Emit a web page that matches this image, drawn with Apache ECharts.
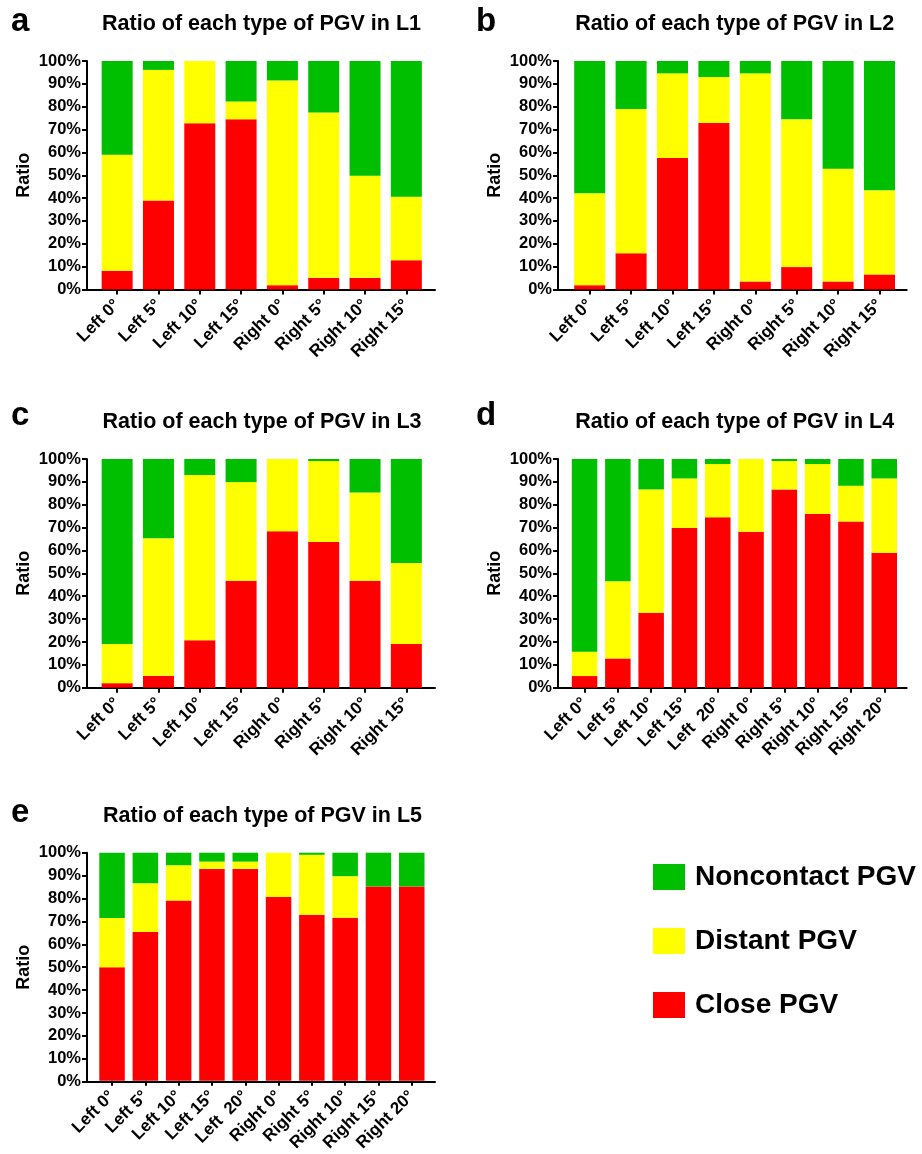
<!DOCTYPE html>
<html>
<head>
<meta charset="utf-8">
<script src="https://cdn.jsdelivr.net/npm/echarts@6/dist/echarts.min.js"></script>
<style>
html,body{margin:0;padding:0;background:#fff;}
#chart{width:922px;height:1154px;}
</style>
</head>
<body>
<div id="chart"></div>
<script>
const categories8 = ['Left 0°','Left 5°','Left 10°','Left 15°','Right 0°','Right 5°','Right 10°','Right 15°'];
const categories10 = ['Left 0°','Left 5°','Left 10°','Left 15°','Left  20°','Right 0°','Right 5°','Right 10°','Right 15°','Right 20°'];
const yTickLabels = ['0%','10%','20%','30%','40%','50%','60%','70%','80%','90%','100%'];
const seriesNames = ['Close PGV','Distant PGV','Noncontact PGV'];
const panelTitles = ['Ratio of each type of PGV in L1','Ratio of each type of PGV in L2','Ratio of each type of PGV in L3','Ratio of each type of PGV in L4','Ratio of each type of PGV in L5'];
const panelLetters = ['a','b','c','d','e'];

const L1_close      = [8.2, 39.0, 72.8, 74.5, 1.9, 5.1, 5.1, 12.8];
const L1_distant    = [50.8, 57.1, 27.2, 7.8, 89.6, 72.4, 44.7, 27.8];
const L1_noncontact = [41.0, 3.9, 0, 17.7, 8.5, 22.5, 50.2, 59.4];

const L2_close      = [1.9, 15.9, 57.6, 72.9, 3.5, 9.8, 3.5, 6.6];
const L2_distant    = [40.2, 63.1, 37.0, 20.1, 91.1, 64.7, 49.3, 36.8];
const L2_noncontact = [57.9, 21.0, 5.4, 7.0, 5.4, 25.5, 47.2, 56.6];

const L3_close      = [2.0, 5.2, 20.7, 46.8, 68.4, 63.7, 46.8, 19.1];
const L3_distant    = [17.1, 60.1, 72.3, 43.1, 31.6, 35.4, 38.5, 35.4];
const L3_noncontact = [80.9, 34.7, 7.0, 10.1, 0, 0.9, 14.7, 45.5];

const L4_close      = [5.1, 12.8, 32.8, 69.8, 74.5, 68.2, 86.7, 75.9, 72.7, 59.0];
const L4_distant    = [10.6, 33.8, 53.9, 21.7, 23.3, 31.8, 12.4, 21.9, 15.6, 32.5];
const L4_noncontact = [84.3, 53.4, 13.3, 8.5, 2.2, 0, 0.9, 2.2, 11.7, 8.5];

const L5_close      = [49.8, 65.2, 79.0, 92.9, 92.9, 80.6, 72.8, 71.5, 85.2, 85.2];
const L5_distant    = [21.5, 21.4, 15.5, 3.2, 3.2, 19.4, 26.3, 18.2, 0, 0];
const L5_noncontact = [28.7, 13.4, 5.5, 3.9, 3.9, 0, 0.9, 10.3, 14.8, 14.8];

const panelData = [
  {cats: categories8,  vals: [L1_close, L1_distant, L1_noncontact]},
  {cats: categories8,  vals: [L2_close, L2_distant, L2_noncontact]},
  {cats: categories8,  vals: [L3_close, L3_distant, L3_noncontact]},
  {cats: categories10, vals: [L4_close, L4_distant, L4_noncontact]},
  {cats: categories10, vals: [L5_close, L5_distant, L5_noncontact]}
];

// layout (pixels)
const W = 922, H = 1154;
const layout = [
  {wl: 87,  wr: 435,   nl: 96.5,  nr: 427,   top: 61,    bot: 289.5, barW: 31,   tx: 261.5, ty: 24,  lx: 11,  ly: 22},
  {wl: 558, wr: 906.7, nl: 569,   nr: 900.2, top: 61,    bot: 289.5, barW: 31,   tx: 734.7, ty: 24,  lx: 476, ly: 22},
  {wl: 87,  wr: 435,   nl: 96.5,  nr: 427,   top: 459,   bot: 687.7, barW: 31,   tx: 262,   ty: 422, lx: 11,  ly: 416},
  {wl: 558, wr: 906.7, nl: 567.9, nr: 900.9, top: 459,   bot: 687.7, barW: 25.5, tx: 734.7, ty: 422, lx: 476, ly: 416},
  {wl: 87,  wr: 435,   nl: 95.4,  nr: 428.4, top: 852.7, bot: 1081.7,barW: 25.5, tx: 262.5, ty: 816, lx: 11,  ly: 813}
];
const colors = ['#FF0000', '#FFFF00', '#00BF00'];
const FONT = 'Liberation Sans, Arial, Helvetica, sans-serif';

const grid = [], xAxis = [], yAxis = [], series = [], graphic = [];
layout.forEach((L, p) => {
  const gw = grid.length;
  grid.push({left: L.wl, right: W - L.wr, top: L.top, bottom: H - L.bot, containLabel: false});
  const gn = grid.length;
  grid.push({left: L.nl, right: W - L.nr, top: L.top, bottom: H - L.bot, containLabel: false});
  // wide grid axes (axis lines, y labels)
  xAxis.push({gridIndex: gw, type: 'value', min: 0, max: 1,
    axisLine: {show: true, onZero: false, lineStyle: {color: '#000', width: 2}},
    axisTick: {show: false}, axisLabel: {show: false}, splitLine: {show: false}});
  yAxis.push({gridIndex: gw, type: 'value', min: 0, max: 100, interval: 10,
    axisLine: {show: true, lineStyle: {color: '#000', width: 2}},
    axisTick: {show: true, length: 5, lineStyle: {color: '#000', width: 2}},
    axisLabel: {show: true, color: '#000', fontWeight: 'bold', fontSize: 16.5, fontFamily: FONT, margin: 6,
      formatter: (v) => yTickLabels[Math.round(v / 10)]},
    splitLine: {show: false},
    name: 'Ratio', nameLocation: 'middle', nameGap: 54, nameRotate: 90,
    nameTextStyle: {color: '#000', fontWeight: 'bold', fontSize: 18, fontFamily: FONT}});
  // narrow grid axes (categories, bars)
  xAxis.push({gridIndex: gn, type: 'category', data: panelData[p].cats,
    axisLine: {show: false},
    axisTick: {show: true, alignWithLabel: true, length: 5, lineStyle: {color: '#000', width: 2}},
    axisLabel: {show: true, interval: 0, rotate: 45, color: '#000', fontWeight: 'bold', fontSize: 17, fontFamily: FONT, margin: 13},
    splitLine: {show: false}});
  yAxis.push({gridIndex: gn, type: 'value', min: 0, max: 100, show: false});
  const xi = xAxis.length - 1, yi = yAxis.length - 1;
  panelData[p].vals.forEach((arr, s) => {
    series.push({type: 'bar', name: seriesNames[s], xAxisIndex: xi, yAxisIndex: yi,
      stack: 'panel' + p, data: arr, barWidth: L.barW,
      itemStyle: {color: colors[s]}, emphasis: {disabled: true}});
  });
  graphic.push({type: 'text', x: L.tx, y: L.ty, style: {text: panelTitles[p], fill: '#000',
    font: 'bold 21.5px ' + FONT, align: 'center', verticalAlign: 'middle'}});
  graphic.push({type: 'text', x: L.lx, y: L.ly, style: {text: panelLetters[p], fill: '#000',
    font: 'bold 33px ' + FONT, align: 'left', verticalAlign: 'middle'}});
});

const chart = echarts.init(document.getElementById('chart'), null, {renderer: 'canvas'});
chart.setOption({
  animation: false,
  backgroundColor: '#fff',
  grid, xAxis, yAxis, series, graphic,
  legend: {
    data: ['Noncontact PGV', 'Distant PGV', 'Close PGV'],
    orient: 'vertical', left: 648, top: 858,
    itemWidth: 32, itemHeight: 26, itemGap: 36,
    icon: 'rect', selectedMode: false,
    textStyle: {color: '#000', fontWeight: 'bold', fontSize: 28, fontFamily: FONT, padding: [0, 0, 0, 5]}
  }
});
</script>
</body>
</html>
